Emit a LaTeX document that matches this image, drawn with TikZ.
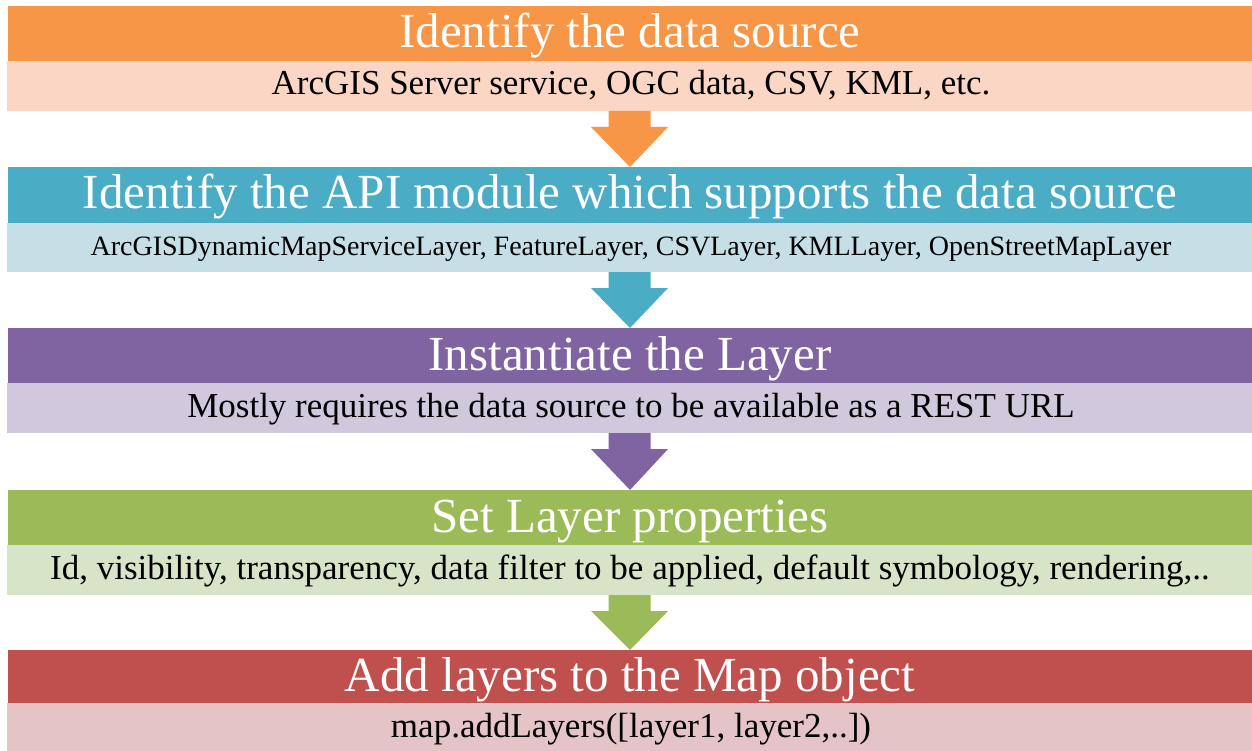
\documentclass[tikz,border=0pt]{standalone}
\usepackage{fontspec}
\setmainfont{Liberation Serif}
\usetikzlibrary{calc}
\definecolor{cOrange}{HTML}{F79646}
\definecolor{cOrangeL}{HTML}{FBD6C4}
\definecolor{cTeal}{HTML}{4BACC6}
\definecolor{cTealL}{HTML}{C6DFE7}
\definecolor{cPurple}{HTML}{8064A2}
\definecolor{cPurpleL}{HTML}{D0C8DD}
\definecolor{cGreen}{HTML}{9BBB59}
\definecolor{cGreenL}{HTML}{D8E4C8}
\definecolor{cRed}{HTML}{C0504D}
\definecolor{cRedL}{HTML}{E4C4C6}
\tikzset{
  band/.style={rectangle, inner sep=0pt, outer sep=0pt, draw=none},
  hdrtext/.style={anchor=base, inner sep=0pt, text=white, font=\fontsize{49}{52}\selectfont},
  subtext/.style={anchor=base, inner sep=0pt, text=black, font=\fontsize{35}{38}\selectfont},
  smalltext/.style={anchor=base, inner sep=0pt, text=black, font=\fontsize{28}{31}\selectfont},
}
\newcommand{\fatarrow}[3]{%
  \fill[#3] ($(#1.south)+(-21,0)$) -- ($(#1.south)+(21,0)$) -- ($(#1.south)+(21,16)$)
    -- ($(#1.south)+(38.5,16)$) -- (#2.north) -- ($(#1.south)+(-38.5,16)$)
    -- ($(#1.south)+(-21,16)$) -- cycle;}
\begin{document}
\begin{tikzpicture}[x=1pt,y=-1pt]
\useasboundingbox[fill=white] (0,0) rectangle (1252,751);
% row 1
\node[band, fill=cOrange, minimum width=1244pt, minimum height=55pt] (h1) at (630,33.5) {};
\node[band, fill=cOrangeL, minimum width=1245pt, minimum height=50pt] (s1) at (629.5,86) {};
% row 2
\node[band, fill=cTeal, minimum width=1244pt, minimum height=56pt] (h2) at (630,195) {};
\node[band, fill=cTealL, minimum width=1245pt, minimum height=49pt] (s2) at (629.5,247.5) {};
% row 3
\node[band, fill=cPurple, minimum width=1244pt, minimum height=55pt] (h3) at (630,355.5) {};
\node[band, fill=cPurpleL, minimum width=1245pt, minimum height=50pt] (s3) at (629.5,408) {};
% row 4
\node[band, fill=cGreen, minimum width=1244pt, minimum height=55pt] (h4) at (630,517.5) {};
\node[band, fill=cGreenL, minimum width=1245pt, minimum height=50pt] (s4) at (629.5,570) {};
% row 5
\node[band, fill=cRed, minimum width=1244pt, minimum height=53pt] (h5) at (630,676.5) {};
\node[band, fill=cRedL, minimum width=1245pt, minimum height=48pt] (s5) at (629.5,727) {};
% texts
\node[hdrtext] (t1) at (630,48) {Identify the data source};
\node[subtext] (u1) at (631,95) {ArcGIS Server service, OGC data, CSV, KML, etc.};
\node[hdrtext] (t2) at (630,209) {Identify the API module which supports the data source};
\node[smalltext] (u2) at (631,255) {ArcGISDynamicMapServiceLayer, FeatureLayer, CSVLayer, KMLLayer, OpenStreetMapLayer};
\node[hdrtext] (t3) at (630,370) {Instantiate the Layer};
\node[subtext] (u3) at (631,417) {Mostly requires the data source to be available as a REST URL};
\node[hdrtext] (t4) at (630,532) {Set Layer properties};
\node[subtext] (u4) at (630,579) {Id, visibility, transparency, data filter to be applied, default symbology, rendering,..};
\node[hdrtext] (t5) at (630,691) {Add layers to the Map object};
\node[subtext] (u5) at (631,737) {map.addLayers([layer1, layer2,..])};
% arrows
\fatarrow{s1}{h2}{cOrange}
\fatarrow{s2}{h3}{cTeal}
\fatarrow{s3}{h4}{cPurple}
\fatarrow{s4}{h5}{cGreen}
\end{tikzpicture}
\end{document}
